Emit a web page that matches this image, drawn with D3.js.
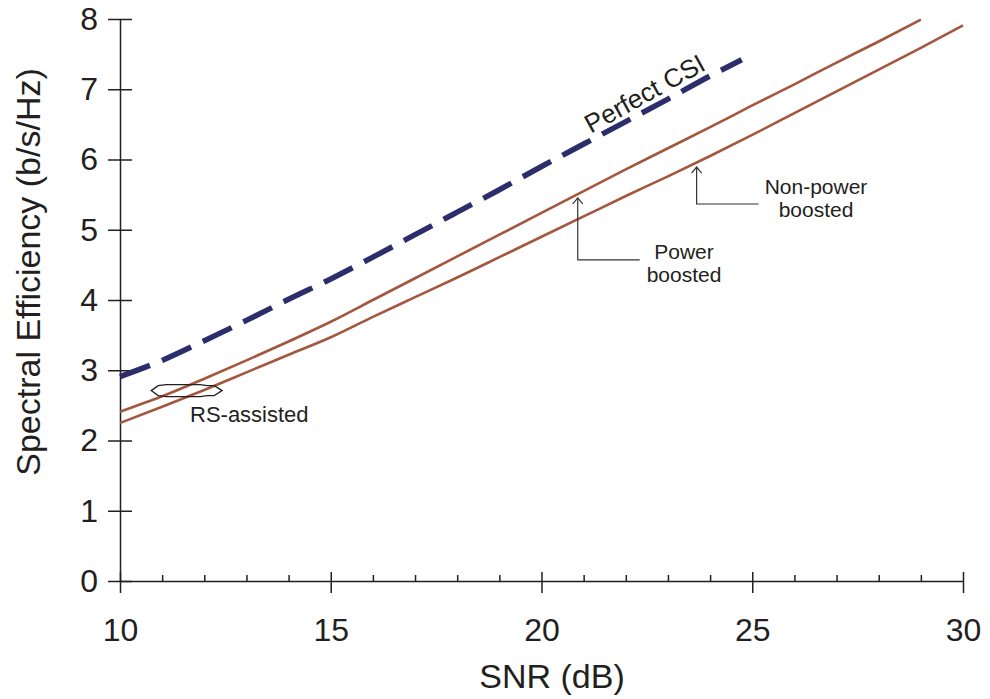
<!DOCTYPE html>
<html>
<head>
<meta charset="utf-8">
<script src="https://cdn.jsdelivr.net/npm/d3@7"></script>
<style>
  body { margin: 0; background: #fff; }
  text { font-family: "Liberation Sans", Arial, sans-serif; fill: #231f20; }
</style>
</head>
<body>
<svg id="chart" width="990" height="699"></svg>
<script>
// values
let snr = [10, 11, 12, 13, 14, 15, 16, 17, 18, 19, 20, 21, 22, 23, 24, 25, 26, 27, 28, 29, 30];
let csiSnr = [10, 11, 12, 13, 14, 15, 16, 17, 18, 19, 20, 21, 22, 23, 24, 24.75];
let perfectCsi = [2.91, 3.14, 3.42, 3.71, 4.01, 4.30, 4.61, 4.93, 5.25, 5.57, 5.90, 6.22, 6.54, 6.86, 7.19, 7.42];
let powerBoosted = [2.41, 2.63, 2.88, 3.14, 3.41, 3.69, 4.00, 4.31, 4.62, 4.93, 5.24, 5.55, 5.86, 6.16, 6.46, 6.77, 7.07, 7.38, 7.68, 7.99];
let nonPowerBoosted = [2.25, 2.48, 2.72, 2.97, 3.22, 3.47, 3.76, 4.04, 4.32, 4.61, 4.90, 5.19, 5.48, 5.76, 6.05, 6.35, 6.66, 6.97, 7.28, 7.59, 7.91];
let xTicks = [10, 15, 20, 25, 30];
let xMinor = [11, 12, 13, 14, 16, 17, 18, 19, 21, 22, 23, 24, 26, 27, 28, 29];
let yTicks = [0, 1, 2, 3, 4, 5, 6, 7, 8];

let svg = d3.select('#chart');

let xScale = d3.scaleLinear().domain([10, 30]).range([120, 963]);
let yScale = d3.scaleLinear().domain([0, 8]).range([581, 19]);

// y axis: ticks cross the line, labels on the left
svg.append('g')
    .attr('transform', 'translate(' + xScale(10) + ',0)')
    .call(d3.axisLeft(yScale).tickValues(yTicks).tickSize(12).tickSizeOuter(0).tickPadding(10))
    .call(g => g.selectAll('text').attr('font-size', 32).attr('font-family', '"Liberation Sans", Arial, sans-serif').attr('fill', '#231f20'));
svg.append('g')
    .attr('transform', 'translate(' + xScale(10) + ',0)')
    .call(d3.axisLeft(yScale).tickValues(yTicks).tickSize(-12).tickSizeOuter(0).tickFormat(''))
    .call(g => g.select('.domain').remove());

// x axis
svg.append('g')
    .attr('transform', 'translate(0,' + yScale(0) + ')')
    .call(d3.axisBottom(xScale).tickValues(xTicks).tickSize(12).tickSizeOuter(0).tickPadding(25))
    .call(g => g.selectAll('text').attr('font-size', 32).attr('font-family', '"Liberation Sans", Arial, sans-serif').attr('fill', '#231f20'));
svg.append('g')
    .attr('transform', 'translate(0,' + yScale(0) + ')')
    .call(d3.axisBottom(xScale).tickValues(xTicks).tickSize(-9).tickSizeOuter(0).tickFormat(''))
    .call(g => g.select('.domain').remove());
svg.append('g')
    .attr('transform', 'translate(0,' + yScale(0) + ')')
    .call(d3.axisBottom(xScale).tickValues(xMinor).tickSize(-6).tickSizeOuter(0).tickFormat(''))
    .call(g => g.select('.domain').remove());

svg.selectAll('.domain, .tick line').attr('stroke', '#231f20').attr('stroke-width', 1.5);

// axis titles
svg.append('text')
    .attr('x', 552).attr('y', 688)
    .attr('text-anchor', 'middle')
    .attr('font-size', 34)
    .text('SNR (dB)');
svg.append('text')
    .attr('transform', 'translate(40,' + 272 + ') rotate(-90)')
    .attr('text-anchor', 'middle')
    .attr('font-size', 34)
    .text('Spectral Efficiency (b/s/Hz)');

// lines
let line = d3.line().curve(d3.curveMonotoneX).x(d => xScale(d[0])).y(d => yScale(d[1]));

svg.append('path')
    .datum(snr.slice(0, powerBoosted.length).map((s, i) => [s, powerBoosted[i]]))
    .attr('d', line)
    .attr('fill', 'none')
    .attr('stroke', '#a4573f')
    .attr('stroke-width', 2.6);

svg.append('path')
    .datum(snr.map((s, i) => [s, nonPowerBoosted[i]]))
    .attr('d', line)
    .attr('fill', 'none')
    .attr('stroke', '#a4573f')
    .attr('stroke-width', 2.6);

svg.append('path')
    .datum(csiSnr.map((s, i) => [s, perfectCsi[i]]))
    .attr('d', line)
    .attr('fill', 'none')
    .attr('stroke', '#2c2e6c')
    .attr('stroke-width', 5.5)
    .attr('stroke-dasharray', '32,13');

// Perfect CSI label
svg.append('text')
    .attr('transform', 'translate(' + xScale(22.55) + ',' + (yScale(6.67) - 11) + ') rotate(-29)')
    .attr('text-anchor', 'middle')
    .attr('font-size', 26)
    .text('Perfect CSI');

// RS-assisted ring around the two lines
let ringX = xScale(11.57), ringY = yScale(2.71);
let ring = [[-35, 0], [-28, -5], [-20, -6], [14, -6], [21, -5], [28, -5], [36, 0], [28, 5], [21, 5], [14, 6], [-20, 6], [-28, 5]];
svg.append('path')
    .attr('d', d3.line().curve(d3.curveLinearClosed)(ring.map(p => [ringX + p[0], ringY + p[1]])))
    .attr('fill', 'none')
    .attr('stroke', '#231f20')
    .attr('stroke-width', 1.3);
svg.append('text')
    .attr('x', 190).attr('y', 422)
    .attr('font-size', 22)
    .text('RS-assisted');

// callouts with open arrowheads
function callout(s, v, drop, run, lines, tx, ty) {
    let px = xScale(s), py = yScale(v) + 4;
    svg.append('path')
        .attr('d', 'M' + px + ',' + py + 'V' + (py + drop) + 'H' + (px + run))
        .attr('fill', 'none').attr('stroke', '#333').attr('stroke-width', 1.2);
    svg.append('path')
        .attr('d', 'M' + (px - 5) + ',' + (py + 6) + 'L' + px + ',' + py + 'L' + (px + 5) + ',' + (py + 6))
        .attr('fill', 'none').attr('stroke', '#333').attr('stroke-width', 1.2);
    lines.forEach((t, i) => {
        svg.append('text')
            .attr('x', tx).attr('y', ty + i * 23)
            .attr('text-anchor', 'middle')
            .attr('font-size', 21)
            .text(t);
    });
}
callout(20.86, 5.51, 62, 62, ['Power', 'boosted'], 684, 259);
callout(23.68, 5.95, 37, 62, ['Non-power', 'boosted'], 816, 194);
</script>
</body>
</html>
